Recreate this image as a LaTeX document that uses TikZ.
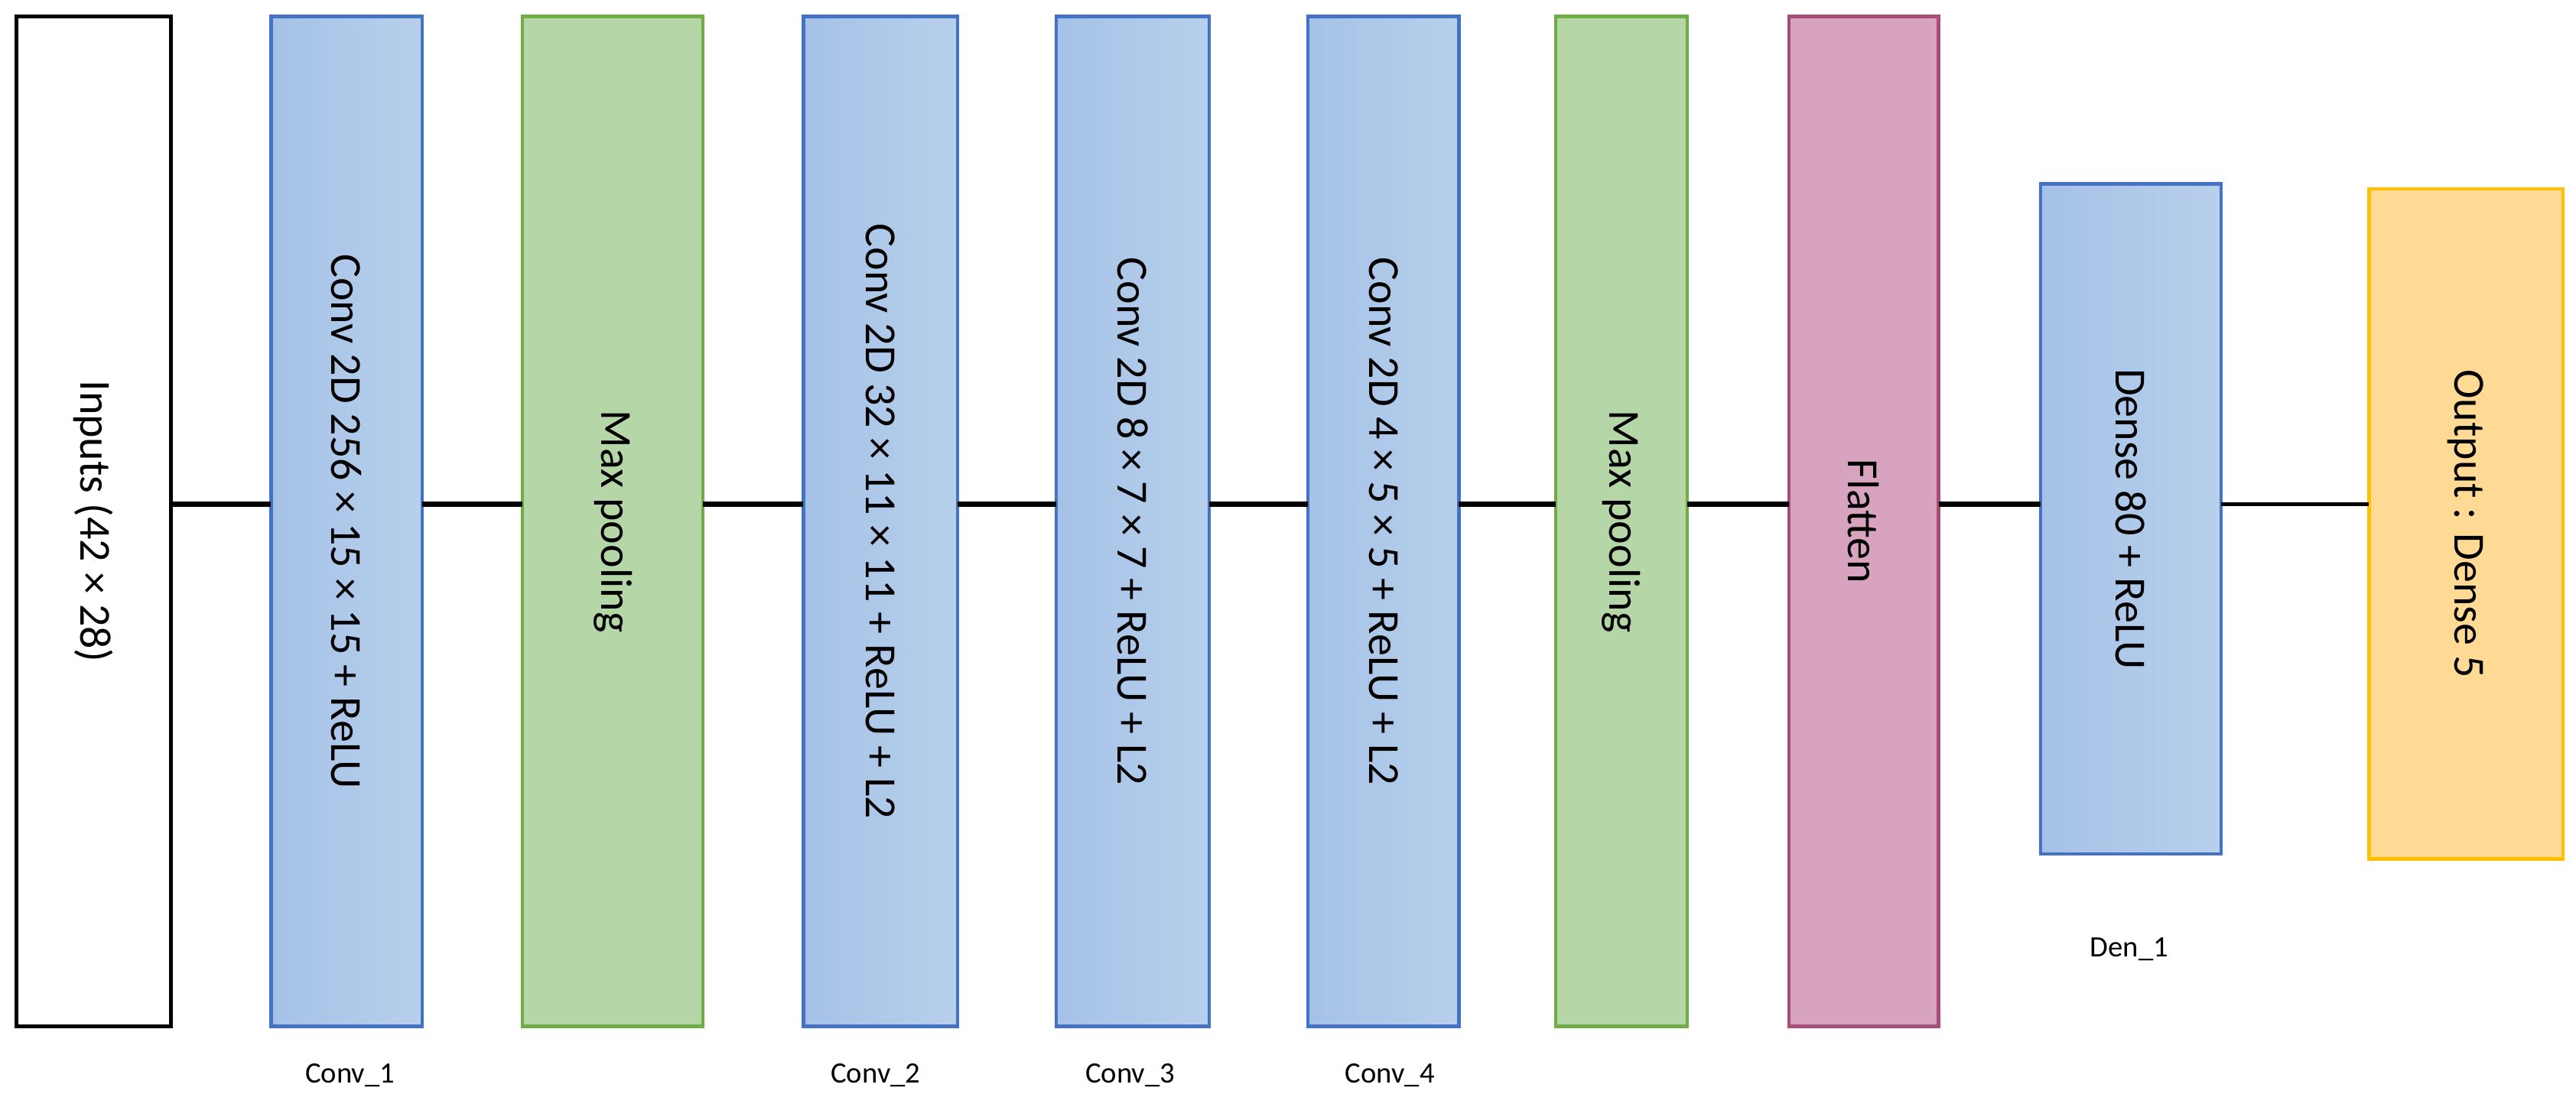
\documentclass[tikz,border=0pt]{standalone}
\usepackage{fontspec}
\setmainfont{Carlito}
\begin{document}
\begin{tikzpicture}[x=1pt,y=-1pt,
 box/.style={draw,line width=2pt,inner sep=0pt},
 txt/.style={rotate=-90,font=\fontsize{27}{30}\selectfont},
 lab/.style={font=\fontsize{18}{20}\selectfont},
 blue/.style={box,left color=blueL,right color=blueR},
 green/.style={box,draw=greenD,fill=greenF},
 conn/.style={line width=3pt}]
\definecolor{blueL}{HTML}{A5C1E6}\definecolor{blueR}{HTML}{B7D0EC}\definecolor{blueD}{HTML}{4472C4}
\definecolor{greenD}{HTML}{70AD47}\definecolor{greenF}{HTML}{B5D6A7}
\definecolor{pinkD}{HTML}{A64D79}\definecolor{pinkF}{HTML}{D7A3BE}
\definecolor{orD}{HTML}{FFC000}\definecolor{orF}{HTML}{FFDA94}
\tikzset{blue/.append style={draw=blueD}}
\useasboundingbox (0,0) rectangle (1568,674);
\draw[box,draw=black,fill=white] (10,10) rectangle (104,625) node[pos=.5,txt] (in) {Inputs (42 × 28)};
\draw[blue] (165,10) rectangle (257,625) node[pos=.5,txt] (c1) {Conv 2D 256 × 15 × 15 + ReLU};
\draw[green] (318,10) rectangle (428,625) node[pos=.5,txt] (m1) {Max pooling};
\draw[blue] (489,10) rectangle (583,625) node[pos=.5,txt] (c2) {Conv 2D 32 × 11 × 11 + ReLU + L2};
\draw[blue] (643,10) rectangle (736,625) node[pos=.5,txt] (c3) {Conv 2D 8 × 7 × 7 + ReLU + L2};
\draw[blue] (796,10) rectangle (888,625) node[pos=.5,txt] (c4) {Conv 2D 4 × 5 × 5 + ReLU + L2};
\draw[green] (947,10) rectangle (1027,625) node[pos=.5,txt] (m2) {Max pooling};
\draw[box,draw=pinkD,fill=pinkF] (1089,10) rectangle (1180,625) node[pos=.5,txt] (fl) {Flatten};
\draw[blue] (1242,112) rectangle (1352,520) node[pos=.5,txt] (d1) {Dense 80 + ReLU};
\draw[box,draw=orD,fill=orF] (1442,115) rectangle (1560,523) node[pos=.5,txt] (out) {Output : Dense 5};
\coordinate (a0) at (104,307);
\coordinate (a1) at (165,307);\coordinate (a2) at (257,307);
\coordinate (a3) at (318,307);\coordinate (a4) at (428,307);
\coordinate (a5) at (489,307);\coordinate (a6) at (583,307);
\coordinate (a7) at (643,307);\coordinate (a8) at (736,307);
\coordinate (a9) at (796,307);\coordinate (a10) at (888,307);
\coordinate (a11) at (947,307);\coordinate (a12) at (1027,307);
\coordinate (a13) at (1089,307);\coordinate (a14) at (1180,307);
\coordinate (a15) at (1242,307);\coordinate (a16) at (1352,307);
\coordinate (a17) at (1442,307);
\draw[conn] (a0)--(a1) (a2)--(a3) (a4)--(a5) (a6)--(a7) (a8)--(a9) (a10)--(a11) (a12)--(a13) (a14)--(a15);
\draw[line width=2pt] (a16)--(a17);
\node[lab] (l1) at (213,655) {Conv\_1};
\node[lab] (l2) at (533,655) {Conv\_2};
\node[lab] (l3) at (688,655) {Conv\_3};
\node[lab] (l4) at (846,655) {Conv\_4};
\node[lab] (l5) at (1296,578) {Den\_1};
\end{tikzpicture}
\end{document}
